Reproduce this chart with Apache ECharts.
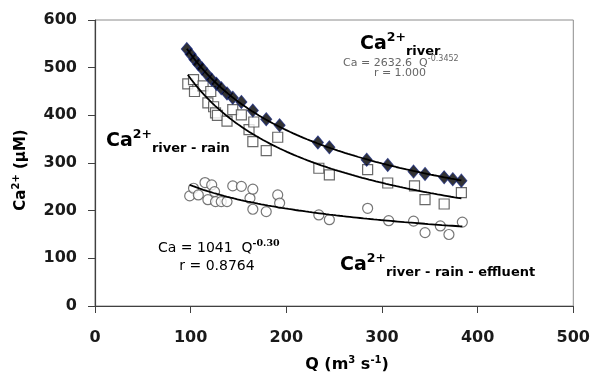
<!DOCTYPE html>
<html><head><meta charset="utf-8">
<script src="https://cdn.jsdelivr.net/npm/echarts@6/dist/echarts.min.js"></script>
<style>html,body{margin:0;padding:0;background:#fff}#c{width:593px;height:374px}</style>
</head><body><div id="c"></div>
<script>
// Ca2+ river (diamonds)
const riverQ  = [96,100,104,108,112,117,122,127,132,138,144,153,165,179,193,233,245,284,306,333,345,365,374,383];
const riverCa = [539,528,517,507,498,486,475,466,457,446,437,428,410,392,379,343,333,307,296,282,277,270,266,263];
// Ca2+ river - rain (squares)
const rainQ  = [97,103,104,113,118,121,124,126,128,138,144,153,161,165,166,179,191,234,245,285,306,334,345,365,383];
const rainCa = [466,475,450,462,426,450,418,405,400,388,412,401,370,345,386,326,354,289,275,286,258,252,223,214,238];
// Ca2+ river - rain - effluent (circles)
const effQ  = [99,103,108,115,118,122,125,126,132,138,144,153,162,165,165,179,191,193,234,245,285,307,333,345,361,370,384];
const effCa = [231,247,233,259,223,254,240,219,219,219,252,251,226,245,203,198,233,216,191,181,205,179,178,154,168,150,176];
// axis ticks
const xTicks = [0,100,200,300,400,500];
const yTicks = [0,100,200,300,400,500,600];

function pairs(xs, ys){ return xs.map((x,i)=>[x, ys[i]]); }
function powerFit(xs, ys){
  let n=xs.length,sx=0,sy=0,sxx=0,sxy=0;
  for(let i=0;i<n;i++){const lx=Math.log(xs[i]),ly=Math.log(ys[i]);sx+=lx;sy+=ly;sxx+=lx*lx;sxy+=lx*ly;}
  const b=(n*sxy-sx*sy)/(n*sxx-sx*sx); const a=Math.exp((sy-b*sx)/n); return {a,b};
}
function fitCurve(xs, ys){
  const f=powerFit(xs,ys); const lo=Math.min(...xs), hi=Math.max(...xs); const pts=[];
  for(let i=0;i<=80;i++){const x=lo+(hi-lo)*i/80; pts.push([x, f.a*Math.pow(x,f.b)]);}
  return pts;
}

const F = 'DejaVu Sans';
const bigRich = {
  ca:  {fontFamily:F, fontWeight:'bold', fontSize:19, fill:'#000', lineHeight:27},
  sup: {fontFamily:F, fontWeight:'bold', fontSize:12.5, fill:'#000', verticalAlign:'top'},
  sub: {fontFamily:F, fontWeight:'bold', fontSize:13, fill:'#000', verticalAlign:'bottom'}
};

const chart = echarts.init(document.getElementById('c'));
const lineStyle = {color:'#000', width:1.8};
chart.setOption({
  animation:false,
  grid:{left:95, right:18, top:20, bottom:68, show:true, borderColor:'#8c8c8c', borderWidth:1},
  xAxis:{type:'value', min:xTicks[0], max:xTicks[xTicks.length-1], interval:100,
    axisLine:{lineStyle:{color:'#404040', width:1.2}}, axisTick:{length:7, lineStyle:{color:'#404040'}},
    splitLine:{show:false},
    axisLabel:{margin:24, fontFamily:F, fontWeight:'bold', fontSize:16, color:'#1a1a1a'}},
  yAxis:{type:'value', min:yTicks[0], max:yTicks[yTicks.length-1], interval:100,
    axisLine:{show:true, lineStyle:{color:'#404040', width:1.2}}, axisTick:{show:true, length:7, lineStyle:{color:'#404040'}},
    splitLine:{show:false},
    axisLabel:{margin:18, fontFamily:F, fontWeight:'bold', fontSize:16, color:'#1a1a1a'}},
  series:[
    {type:'scatter', data:pairs(effQ,effCa), symbol:'circle', symbolSize:10,
      itemStyle:{color:'#fff', borderColor:'#555', borderWidth:1.2}},
    {type:'scatter', data:pairs(rainQ,rainCa), symbol:'rect', symbolSize:10,
      itemStyle:{color:'#fff', borderColor:'#444', borderWidth:1.2}},
    {type:'scatter', data:pairs(riverQ,riverCa), symbol:'diamond', symbolSize:[11,13],
      itemStyle:{color:'#000', borderColor:'#1c2a7a', borderWidth:1}},
    {type:'line', data:fitCurve(riverQ,riverCa), showSymbol:false, symbol:'none', lineStyle:lineStyle, z:5},
    {type:'line', data:fitCurve(rainQ,rainCa), showSymbol:false, symbol:'none', lineStyle:lineStyle, z:5},
    {type:'line', data:fitCurve(effQ,effCa), showSymbol:false, symbol:'none', lineStyle:lineStyle, z:5}
  ],
  graphic:[
    {type:'text', x:360, y:31, style:{text:'{ca|Ca}{sup|2+}{sub|river}', rich:bigRich, align:'left', verticalAlign:'top'}},
    {type:'text', x:106, y:128, style:{text:'{ca|Ca}{sup|2+}{sub|river - rain}', rich:bigRich, align:'left', verticalAlign:'top'}},
    {type:'text', x:340, y:252, style:{text:'{ca|Ca}{sup|2+}{sub|river - rain - effluent}', rich:bigRich, align:'left', verticalAlign:'top'}},
    {type:'text', x:343, y:55, style:{text:'{n|Ca = 2632.6  Q}{e|-0.3452}', align:'left', verticalAlign:'top',
      rich:{n:{fontFamily:F, fontSize:11, fill:'#666', lineHeight:16}, e:{fontFamily:F, fontSize:8, fill:'#666', verticalAlign:'top'}}}},
    {type:'text', x:400, y:73, style:{text:'r = 1.000', fontFamily:F, fontSize:11, fill:'#666', align:'center', verticalAlign:'middle'}},
    {type:'text', x:158, y:239, style:{text:'{n|Ca = 1041  Q}{e|-0.30}', align:'left', verticalAlign:'top',
      rich:{n:{fontFamily:F, fontSize:14, fill:'#000', lineHeight:19}, e:{fontFamily:'DejaVu Serif', fontWeight:'bold', fontSize:9.5, fill:'#000', verticalAlign:'top'}}}},
    {type:'text', x:217, y:266, style:{text:'r = 0.8764', fontFamily:F, fontSize:14, fill:'#000', align:'center', verticalAlign:'middle'}},
    {type:'text', x:21, y:170, rotation:Math.PI/2, style:{text:'{a|Ca}{s|2+}{a| (μM)}', align:'center', verticalAlign:'middle',
      rich:{a:{fontFamily:F, fontWeight:'bold', fontSize:15, fill:'#000', lineHeight:20}, s:{fontFamily:F, fontWeight:'bold', fontSize:10, fill:'#000', verticalAlign:'top'}}}},
    {type:'text', x:347, y:365, style:{text:'{a|Q (m}{s|3}{a| s}{s|-1}{a|)}', align:'center', verticalAlign:'middle',
      rich:{a:{fontFamily:F, fontWeight:'bold', fontSize:16, fill:'#000', lineHeight:20}, s:{fontFamily:F, fontWeight:'bold', fontSize:10, fill:'#000', verticalAlign:'top'}}}}
  ]
});
</script></body></html>
